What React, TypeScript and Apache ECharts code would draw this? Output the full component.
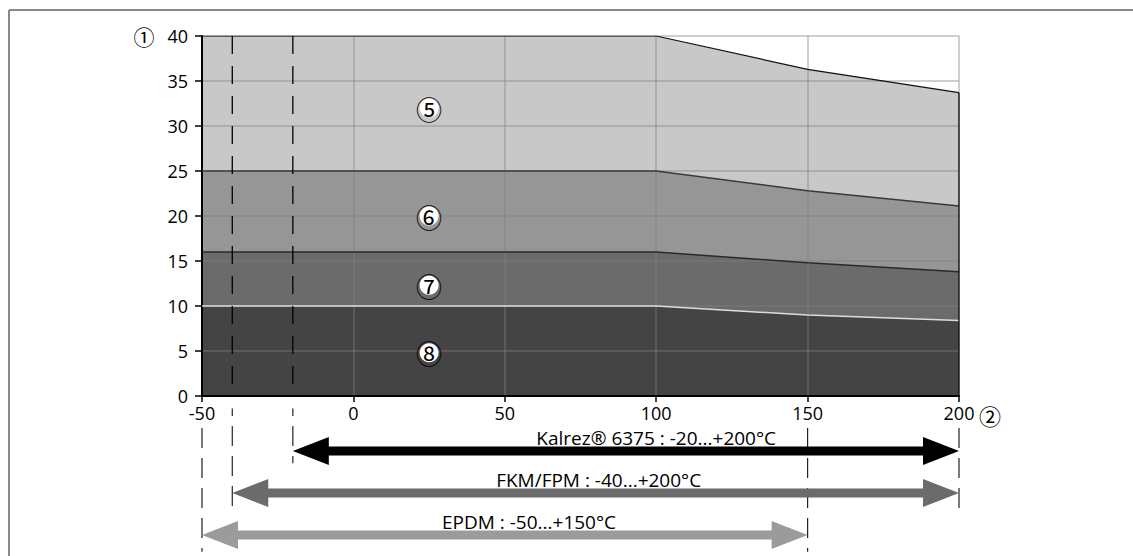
import React, { useEffect, useRef } from "react";
import * as echarts from "echarts";

// ---- data ----
const tempPoints = [-50, 100, 150, 200];
const band5Top = [40, 40, 36.3, 33.7];
const band6Top = [25, 25, 22.8, 21.1];
const band7Top = [16, 16, 14.8, 13.8];
const band8Top = [10, 10, 9.0, 8.4];

const regionLabels = ["⑤", "⑥", "⑦", "⑧"];
const regionLabelX = [25, 25, 25, 25];
const regionLabelY = [32, 20, 12.3, 4.8];

const materialNames = [
  "Kalrez® 6375 : -20...+200°C",
  "FKM/FPM : -40...+200°C",
  "EPDM : -50...+150°C",
];
const materialMin = [-20, -40, -50];
const materialMax = [200, 200, 150];
const materialRow = [1, 2, 3];
const materialTextX = [100, 81, 58];

// dashed limit lines inside the plot (temperature)
const plotLimitTemps = [-40, -20];
// dashed limit lines below the plot: temperature, row start, row end
const lowerLimitTemps = [-50, -40, -20, 150, 200];
const lowerLimitStart = [0.45, -0.31, -0.31, 0.45, 0.45];
const lowerLimitEnd = [3.4, 2.31, 1.29, 3.4, 2.38];

const yTicks = { min: 0, max: 40, interval: 5 };
const xTicks = { min: -50, max: 200, interval: 50 };

// ---- styles ----
const FONT = "'Open Sans'";
const CIRCLED = "'Noto Sans CJK JP'";
const bandFill = ["#c8c8c8", "#969696", "#6b6b6b", "#444444"];
const bandLine = ["#111111", "#3a3a3a", "#2a2a2a", "#dddddd"];
const arrowColors = ["#000000", "#6b6b6b", "#9b9b9b"];

export default function App() {
  const ref = useRef<HTMLDivElement>(null);

  useEffect(() => {
    document.body.style.margin = "0";
    document.body.style.overflow = "hidden";
    if (!ref.current) return;
    const chart = echarts.init(ref.current, undefined, { renderer: "svg" });

    const bands = [band5Top, band6Top, band7Top, band8Top];
    const toXY = (arr: number[]) => tempPoints.map((t, i) => [t, arr[i]]);

    const areaSeries = bands.map((b, i) => ({
      type: "line",
      xAxisIndex: 0,
      yAxisIndex: 0,
      data: toXY(b),
      showSymbol: false,
      symbol: "none",
      lineStyle: { width: 0 },
      areaStyle: { color: bandFill[i], opacity: 1 },
      z: 0,
      silent: true,
    }));

    const boundarySeries = bands.map((b, i) => ({
      type: "line",
      xAxisIndex: 0,
      yAxisIndex: 0,
      data: toXY(b),
      showSymbol: false,
      symbol: "none",
      lineStyle: { width: i === 0 ? 1.2 : 1.5, color: bandLine[i] },
      z: 3,
      silent: true,
    }));

    const rightEdge = {
      type: "line",
      xAxisIndex: 0,
      yAxisIndex: 0,
      data: [
        [tempPoints[tempPoints.length - 1], 0],
        [tempPoints[tempPoints.length - 1], band5Top[band5Top.length - 1]],
      ],
      showSymbol: false,
      symbol: "none",
      lineStyle: { width: 1.2, color: "#000" },
      z: 3,
      silent: true,
    };

    const plotDashed = plotLimitTemps.map((t) => ({
      type: "line",
      xAxisIndex: 0,
      yAxisIndex: 0,
      data: [
        [t, yTicks.max],
        [t, yTicks.min],
      ],
      showSymbol: false,
      symbol: "none",
      lineStyle: { width: 1.3, color: "#000", type: [18, 12] },
      z: 3,
      silent: true,
    }));

    const lowerDashed = lowerLimitTemps.map((t, i) => ({
      type: "line",
      xAxisIndex: 1,
      yAxisIndex: 1,
      data: [
        [t, lowerLimitStart[i]],
        [t, lowerLimitEnd[i]],
      ],
      showSymbol: false,
      symbol: "none",
      lineStyle: { width: 1.2, color: "#222", type: [20, 10] },
      z: 3,
      silent: true,
    }));

    const labelSeries = {
      type: "scatter",
      xAxisIndex: 0,
      yAxisIndex: 0,
      symbol: "circle",
      symbolSize: 19,
      itemStyle: { color: "#ffffff", opacity: 1 },
      data: regionLabels.map((n, i) => ({ name: n, value: [regionLabelX[i], regionLabelY[i]] })),
      label: {
        show: true,
        position: "inside",
        formatter: "{b}",
        fontFamily: CIRCLED,
        fontSize: 26,
        color: "#000",
      },
      z: 5,
      silent: true,
    };

    const arrowSeries = {
      type: "custom",
      xAxisIndex: 1,
      yAxisIndex: 1,
      clip: false,
      z: 4,
      silent: true,
      data: materialNames.map((n, i) => [materialMin[i], materialMax[i], materialRow[i], materialTextX[i]]),
      renderItem: (params: any, api: any) => {
        const i = params.dataIndex;
        const p0 = api.coord([api.value(0), api.value(2)]);
        const p1 = api.coord([api.value(1), api.value(2)]);
        const pt = api.coord([api.value(3), api.value(2) - 0.32]);
        const y = p0[1];
        const headL = 36;
        const headH = 28;
        const shaft = 9;
        const color = arrowColors[i];
        return {
          type: "group",
          children: [
            {
              type: "rect",
              shape: { x: p0[0] + headL - 1, y: y - shaft / 2, width: p1[0] - p0[0] - 2 * headL + 2, height: shaft },
              style: { fill: color },
            },
            {
              type: "polygon",
              shape: { points: [[p0[0], y], [p0[0] + headL, y - headH / 2], [p0[0] + headL, y + headH / 2]] },
              style: { fill: color },
            },
            {
              type: "polygon",
              shape: { points: [[p1[0], y], [p1[0] - headL, y - headH / 2], [p1[0] - headL, y + headH / 2]] },
              style: { fill: color },
            },
            {
              type: "text",
              x: pt[0],
              y: pt[1],
              style: {
                text: materialNames[i],
                fill: "#000",
                font: `19px ${FONT}`,
                align: "center",
                verticalAlign: "middle",
              },
            },
          ],
        };
      },
    };

    const option: any = {
      animation: false,
      backgroundColor: "#fff",
      grid: [
        { left: 202, right: 174, top: 36, bottom: 160, containLabel: false },
        { left: 202, right: 174, top: 409, bottom: 0, containLabel: false },
      ],
      xAxis: [
        {
          type: "value",
          gridIndex: 0,
          min: xTicks.min,
          max: xTicks.max,
          interval: xTicks.interval,
          z: 1,
          axisLine: { show: true, onZero: false, lineStyle: { color: "#000", width: 2 } },
          axisTick: { show: true, length: 6, lineStyle: { color: "#000", width: 1.5 } },
          axisLabel: { color: "#000", fontSize: 18, fontFamily: FONT, margin: 8, lineHeight: 18 },
          splitLine: { show: true, lineStyle: { color: "rgba(128,128,128,0.5)", width: 1.5 } },
        },
        {
          type: "value",
          gridIndex: 1,
          min: xTicks.min,
          max: xTicks.max,
          show: false,
        },
      ],
      yAxis: [
        {
          type: "value",
          gridIndex: 0,
          min: yTicks.min,
          max: yTicks.max,
          interval: yTicks.interval,
          z: 1,
          axisLine: { show: true, onZero: false, lineStyle: { color: "#000", width: 2 } },
          axisTick: { show: true, length: 7, lineStyle: { color: "#000", width: 1.5 } },
          axisLabel: { color: "#000", fontSize: 18, fontFamily: FONT, margin: 14 },
          splitLine: { show: true, lineStyle: { color: "rgba(128,128,128,0.5)", width: 1.5 } },
        },
        {
          type: "value",
          gridIndex: 1,
          min: 0,
          max: 3.5,
          inverse: true,
          show: false,
        },
      ],
      graphic: [
        { type: "line", shape: { x1: 9, y1: 10, x2: 1133, y2: 10 }, style: { stroke: "#8a8a8a", lineWidth: 2 } },
        { type: "line", shape: { x1: 9, y1: 10, x2: 9, y2: 556 }, style: { stroke: "#8a8a8a", lineWidth: 2 } },
        {
          type: "text",
          x: 144,
          y: 36,
          style: { text: "①", font: `21px ${CIRCLED}`, fill: "#000", align: "center", verticalAlign: "middle" },
        },
        {
          type: "text",
          x: 990,
          y: 415,
          style: { text: "②", font: `22px ${CIRCLED}`, fill: "#000", align: "center", verticalAlign: "middle" },
        },
      ],
      series: [
        ...areaSeries,
        ...boundarySeries,
        rightEdge,
        ...plotDashed,
        ...lowerDashed,
        labelSeries,
        arrowSeries,
      ],
    };

    chart.setOption(option);
    return () => chart.dispose();
  }, []);

  return <div ref={ref} style={{ width: 1133, height: 556 }} />;
}
